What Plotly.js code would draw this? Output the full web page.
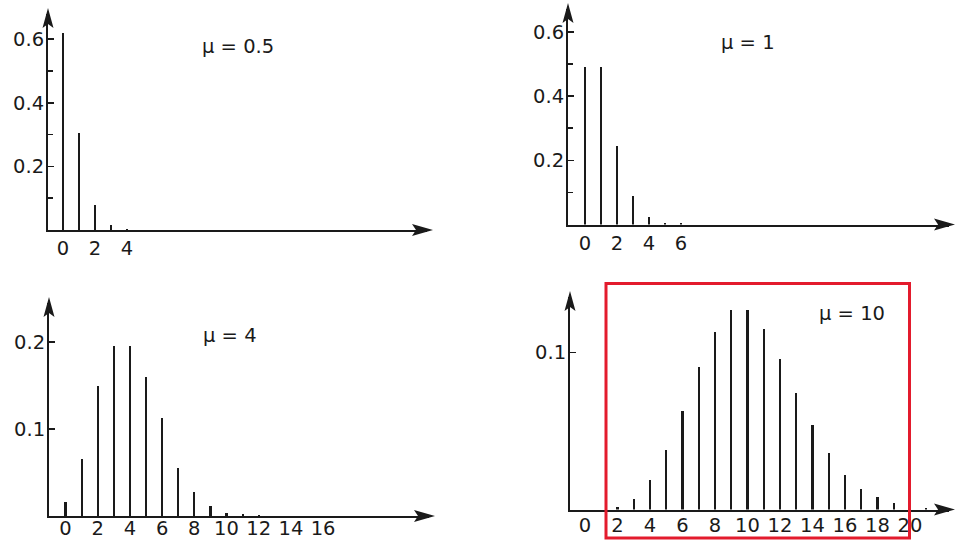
<!DOCTYPE html>
<html>
<head>
<meta charset="utf-8">
<script src="https://cdn.plot.ly/plotly-3.0.1.min.js"></script>
<style>html,body{margin:0;padding:0;background:#fff;}#chart{width:956px;height:540px;}</style>
</head>
<body>
<div id="chart"></div>
<script>
// ---- data ----
var k1 = [0, 1, 2, 3, 4];
var p1 = [0.62, 0.305, 0.078, 0.015, 0.003];
var k2 = [0, 1, 2, 3, 4, 5, 6];
var p2 = [0.49, 0.49, 0.245, 0.088, 0.022, 0.006, 0.004];
var k3 = [0, 1, 2, 3, 4, 5, 6, 7, 8, 9, 10, 11, 12];
var p3 = [0.016, 0.066, 0.15, 0.195, 0.195, 0.16, 0.113, 0.055, 0.028, 0.011, 0.004, 0.002, 0.001];
var k4 = [2, 3, 4, 5, 6, 7, 8, 9, 10, 11, 12, 13, 14, 15, 16, 17, 18, 19, 20, 21];
var p4 = [0.0013, 0.007, 0.0187, 0.038, 0.063, 0.091, 0.113, 0.127, 0.127, 0.115, 0.096, 0.074, 0.054, 0.036, 0.022, 0.013, 0.0077, 0.004, 0.002, 0.001];

var titles = ["μ = 0.5", "μ = 1", "μ = 4", "μ = 10"];

var xt1 = [0, 2, 4];
var xt2 = [0, 2, 4, 6];
var xt3 = [0, 2, 4, 6, 8, 10, 12, 14, 16];
var xt4 = [0, 2, 4, 6, 8, 10, 12, 14, 16, 18, 20];
var yt1 = [0.2, 0.4, 0.6], ym1 = [0.1, 0.3, 0.5];
var yt2 = [0.2, 0.4, 0.6], ym2 = [0.1, 0.3, 0.5];
var yt3 = [0.1, 0.2];
var yt4 = [0.1];

// ---- layout geometry (pixels) ----
var W = 956, H = 540;
var INK = "#1a1a1a";
var FONT = {family: "DejaVu Sans", size: 19.5, color: INK};
// left: y-axis x, base: baseline y, top: arrow tip y, right: arrow tip x, x0: pixel of k=0, ux/uy: px per unit
var panels = [
  {left: 48, base: 230, top: 8, right: 433, x0: 63, ux: 16, uy: 318, lab: [238, 47], so: 0},
  {left: 568, base: 224.5, top: 3, right: 955, x0: 585, ux: 16, uy: 321, lab: [748, 43], so: 0},
  {left: 49, base: 516, top: 297, right: 435, x0: 65.5, ux: 16.1, uy: 870, lab: [230, 335], so: -6},
  {left: 570, base: 509.5, top: 291, right: 955, x0: 585, ux: 16.25, uy: 1570, lab: [852, 313], so: -3}
];
var ks = [k1, k2, k3, k4], ps = [p1, p2, p3, p4];
var xts = [xt1, xt2, xt3, xt4], yts = [yt1, yt2, yt3, yt4], yms = [ym1, ym2, [], []];

function px(x) { return x / W; }
function py(y) { return 1 - y / H; }

var data = [], layout = {
  width: W, height: H,
  margin: {l: 0, r: 0, t: 0, b: 0},
  paper_bgcolor: "#fff", plot_bgcolor: "rgba(0,0,0,0)",
  showlegend: false, bargap: 0,
  font: FONT,
  shapes: [], annotations: []
};

panels.forEach(function (P, i) {
  var n = i === 0 ? "" : String(i + 1);
  data.push({
    type: "bar", x: ks[i], y: ps[i], width: 2.2 / P.ux,
    marker: {color: INK, line: {width: 0}},
    xaxis: "x" + n, yaxis: "y" + n, hoverinfo: "x+y"
  });
  layout["xaxis" + n] = {
    domain: [px(P.left), px(P.right - 6)],
    range: [(P.left - P.x0) / P.ux, (P.right - 6 - P.x0) / P.ux],
    anchor: "y" + n,
    showgrid: false, zeroline: false,
    showline: true, linecolor: INK, linewidth: 2,
    ticks: "", tickmode: "array", tickvals: xts[i],
    ticklabelstandoff: P.so,
    tickfont: FONT, fixedrange: true
  };
  var yax = {
    domain: [py(P.base), py(P.top + 6)],
    range: [0, (P.base - P.top - 6) / P.uy],
    anchor: "x" + n,
    showgrid: false, zeroline: false,
    showline: true, linecolor: INK, linewidth: 2,
    ticks: "inside", ticklen: 6, tickwidth: 1.6, tickcolor: INK,
    tickmode: "array", tickvals: yts[i], ticktext: yts[i].map(function (v) { return v.toFixed(1); }),
    ticklabelstandoff: -2,
    tickfont: FONT, fixedrange: true
  };
  if (yms[i].length) {
    yax.minor = {tickmode: "array", tickvals: yms[i], ticks: "inside", ticklen: 5, tickwidth: 1.6, tickcolor: INK, showgrid: false};
  }
  layout["yaxis" + n] = yax;

  // arrowheads
  var tx = P.right, ty = P.base;
  layout.shapes.push({
    type: "path", xref: "paper", yref: "paper", fillcolor: INK, line: {width: 0},
    path: "M" + px(tx) + "," + py(ty) + " L" + px(tx - 21) + "," + py(ty - 6) +
          " L" + px(tx - 17) + "," + py(ty) + " L" + px(tx - 21) + "," + py(ty + 6) + " Z"
  });
  var ux = P.left, uy = P.top;
  layout.shapes.push({
    type: "path", xref: "paper", yref: "paper", fillcolor: INK, line: {width: 0},
    path: "M" + px(ux) + "," + py(uy) + " L" + px(ux - 5.5) + "," + py(uy + 20) +
          " L" + px(ux) + "," + py(uy + 16) + " L" + px(ux + 5.5) + "," + py(uy + 20) + " Z"
  });

  layout.annotations.push({
    xref: "paper", yref: "paper", x: px(P.lab[0]), y: py(P.lab[1]),
    xanchor: "center", yanchor: "middle", showarrow: false,
    text: titles[i], font: FONT
  });
});

// red highlight frame round the last panel
layout.shapes.push({
  type: "rect", xref: "paper", yref: "paper",
  x0: px(606), x1: px(909.5), y0: py(538), y1: py(283.5),
  line: {color: "#e31b2d", width: 3}, fillcolor: "rgba(0,0,0,0)", layer: "above"
});

Plotly.newPlot("chart", data, layout, {displayModeBar: false, staticPlot: true});
</script>
</body>
</html>
